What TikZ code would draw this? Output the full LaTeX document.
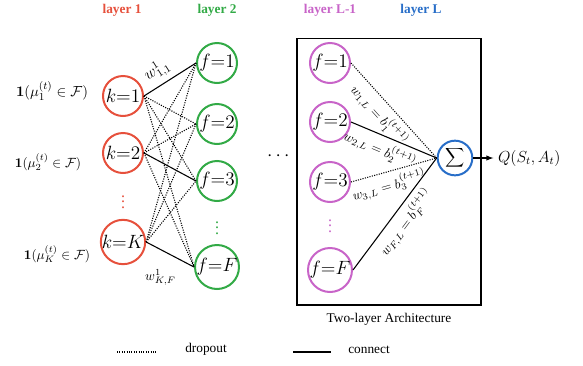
\documentclass[tikz,border=0pt]{standalone}
\usepackage{amsmath}
\usepackage{amssymb}
\usepackage[no-math]{fontspec}
\setmainfont{Liberation Serif}
\usetikzlibrary{positioning, calc, shapes, arrows}

\definecolor{lyred}{RGB}{230,80,60}
\definecolor{lygreen}{RGB}{50,170,70}
\definecolor{lypink}{RGB}{200,100,200}
\definecolor{lyblue}{RGB}{40,110,200}

\begin{document}
\begin{tikzpicture}[x=0.75pt, y=-0.75pt,
	neuron/.style = {circle, draw, line width=1.5pt, minimum size=30pt, inner sep=0pt, font=\Large},
	drop/.style = {densely dotted, line width=0.8pt},
	conn/.style = {line width=0.8pt},
	layname/.style = {font=\bfseries}]
	\useasboundingbox (0,0) rectangle (583,365);

	% layer names
	\node[layname, text=lyred] (lay1) at (122,10) {layer 1};
	\node[layname, text=lygreen] (lay2) at (217,10) {layer 2};
	\node[layname, text=lypink] (layL1) at (330,10) {layer L-1};
	\node[layname, text=lyblue] (layL) at (421,10) {layer L};

	% inputs
	\node[font=\fontsize{11}{13}\selectfont] (in1) at (52,91) {$\mathbf{1}(\mu_1^{(t)}\in\mathcal{F})$};
	\node (in2) at (48,162) {$\mathbf{1}(\mu_2^{(t)}\in\mathcal{F})$};
	\node (inK) at (57,254) {$\mathbf{1}(\mu_K^{(t)}\in\mathcal{F})$};

	% layer 1
	\node[neuron, draw=lyred] (k1) at (123,96) {$k{=}1$};
	\node[neuron, draw=lyred] (k2) at (123,153) {$k{=}2$};
	\node[text=lyred, font=\large, inner sep=0pt] (kdots) at (123,198) {$\vdots$};
	\node[neuron, draw=lyred] (kK) at (123,242) {$k{=}K$};

	% layer 2
	\node[neuron, draw=lygreen] (f1) at (217,63) {$f{=}1$};
	\node[neuron, draw=lygreen] (f2) at (217,124) {$f{=}2$};
	\node[neuron, draw=lygreen] (f3) at (217,181) {$f{=}3$};
	\node[text=lygreen, font=\large, inner sep=0pt] (fdots) at (217,224) {$\vdots$};
	\node[neuron, draw=lygreen] (fF) at (217,267) {$f{=}F$};

	\node[font=\Large] (hdots) at (280,156) {$\cdots$};

	% two-layer part
	\node[draw, line width=1pt, minimum width=138pt, minimum height=200pt] (arch) at (389,171.5) {};
	\node[below=2pt of arch] (archname) {Two-layer Architecture};

	\node[neuron, draw=lypink] (g1) at (330,63) {$f{=}1$};
	\node[neuron, draw=lypink] (g2) at (330,122) {$f{=}2$};
	\node[neuron, draw=lypink] (g3) at (330,182) {$f{=}3$};
	\node[text=lypink, font=\large, inner sep=0pt] (gdots) at (330,222) {$\vdots$};
	\node[neuron, draw=lypink] (gF) at (330,270) {$f{=}F$};

	\node[circle, draw=lyblue, line width=1.5pt, minimum size=26pt, inner sep=0pt] (sig) at (455,158) {$\displaystyle\sum$};
	\node[right=15pt of sig, font=\large] (Q) {$Q(S_t,A_t)$};
	\draw[-latex, line width=0.8pt] (sig) -- (Q);

	% layer 1 -> layer 2
	\foreach \a/\b in {k1/f2, k1/f3, k1/fF, k2/f1, k2/f2, k2/fF, kK/f1, kK/f2, kK/f3}
		\draw[drop] (\a.east) -- (\b.west);
	\draw[conn] (k1.east) -- node[above, sloped, pos=0.4, font=\large] {$w^1_{1,1}$} (f1.west);
	\draw[conn] (k2.east) -- (f3.west);
	\draw[conn] (kK.east) -- node[below=11pt, pos=0.3] {$w^1_{K,F}$} (fF.west);

	% layer L-1 -> layer L
	\draw[drop] (g1.east) -- node[below, sloped, pos=0.45] {$w_{1,L}=b_1^{(t+1)}$} (sig.west);
	\draw[conn] (g2.east) -- node[below, sloped, pos=0.4] {$w_{2,L}=b_2^{(t+1)}$} (sig.west);
	\draw[drop] (g3.east) -- node[below, sloped, pos=0.4] {$w_{3,L}=b_3^{(t+1)}$} (sig.west);
	\draw[conn] (gF.east) -- node[below, sloped, pos=0.5] {$w_{F,L}=b_F^{(t+1)}$} (sig.west);

	% legend
	\coordinate (d1) at (117,352);
	\coordinate (d2) at (156,352);
	\draw[drop] (d1) -- (d2);
	\node (dropname) at (206,349) {dropout};
	\coordinate (c1) at (293,352);
	\coordinate (c2) at (331,352);
	\draw[conn] (c1) -- (c2);
	\node (connname) at (369,350) {connect};
\end{tikzpicture}
\end{document}
